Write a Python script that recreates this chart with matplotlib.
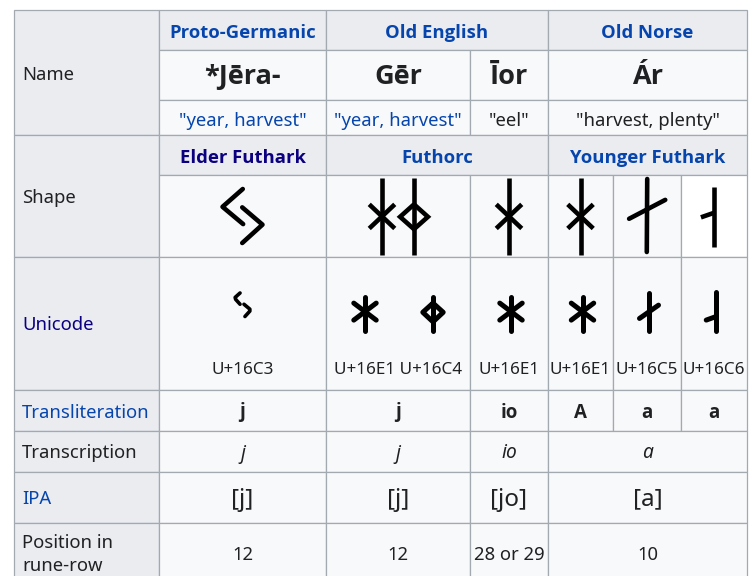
import matplotlib
matplotlib.use("Agg")
import matplotlib.pyplot as plt
from matplotlib import font_manager as fm
from matplotlib.patches import Rectangle

# ---------------- data ----------------
row_labels = ["Name", "Shape", "Unicode", "Transliteration", "Transcription",
              "IPA", "Position in\nrune-row"]
languages = ["Proto-Germanic", "Old English", "Old Norse"]
rune_names = ["*Jēra-", "Gēr", "Īor", "Ár"]
meanings = ['"year, harvest"', '"year, harvest"', '"eel"', '"harvest, plenty"']
scripts = ["Elder Futhark", "Futhorc", "Younger Futhark"]
code_points = [["16C3"], ["16E1", "16C4"], ["16E1"], ["16E1"], ["16C5"], ["16C6"]]
transliterations = ["j", "j", "io", "A", "a", "a"]
transcriptions = ["j", "j", "io", "a"]
ipa_values = ["[j]", "[j]", "[jo]", "[a]"]
positions = ["12", "12", "28 or 29", "10"]

# ---------------- style / layout ----------------
FONT = ["Noto Sans", "DejaVu Sans"]


def has_bold(fam):
    for e in fm.fontManager.ttflist:
        w = e.weight
        if isinstance(w, str):
            w = {"bold": 700, "semibold": 600, "demibold": 600,
                 "heavy": 800, "black": 900, "extra bold": 800}.get(w, 400)
        if e.name == fam and w >= 600 and e.style == "normal":
            return True
    return False


BOLD_FONT = ["DejaVu Sans"]
for fam in ["Noto Sans", "Open Sans", "Roboto", "Lato", "Liberation Sans"]:
    if has_bold(fam):
        BOLD_FONT = [fam, "DejaVu Sans"]
        break

BLACK = "#202122"
LINK = "#0645ad"
VISITED = "#0b0080"
HEAD_BG = "#eaecf0"
CELL_BG = "#f8f9fa"
BORDER = "#a2a9b1"

label_colors = [BLACK, BLACK, VISITED, LINK, BLACK, LINK, BLACK]
meaning_colors = [LINK, LINK, BLACK, BLACK]
script_colors = [VISITED, LINK, LINK]

col_x = [14, 159, 326, 470, 548, 613, 681, 747]
row_y = [10, 50, 100, 135, 175, 257, 390, 431, 472, 523, 582]
label_rows = [(0, 3), (3, 5), (5, 6), (6, 7), (7, 8), (8, 9), (9, 10)]
span3 = [(1, 2), (2, 4), (4, 7)]
span4 = [(1, 2), (2, 3), (3, 4), (4, 7)]
span6 = [(1, 2), (2, 3), (3, 4), (4, 5), (5, 6), (6, 7)]
TEXT_DY = 2

# glyph stroke outlines (x relative to glyph height, y 0=top .. 1=bottom)
SHAPE_STROKES = {
    "16C3": [[(0.005, 0.0), (-0.37, 0.33), (0.012, 0.65)],
             [(-0.005, 0.34), (0.37, 0.66), (-0.005, 1.0)]],
    "16E1": [[(0, 0), (0, 1)], [(-0.165, 0.345), (0.165, 0.657)],
             [(-0.165, 0.657), (0.165, 0.345)]],
    "16C4": [[(0, 0), (0, 1)],
             [(0, 0.345), (0.18, 0.506), (0, 0.666), (-0.18, 0.506), (0, 0.345)]],
    "16C5": [[(0.003, 0), (-0.003, 1)], [(-0.245, 0.545), (0.25, 0.286)]],
    "16C6": [[(0, 0), (0, 1)], [(-0.216, 0.51), (0, 0.435)]],
}
SHAPE_BOX = {"16C3": (189, 243), "16E1": (177.7, 255), "16C4": (177.7, 255),
             "16C5": (179, 252), "16C6": (186.5, 247)}

FONT_STROKES = {
    "16C3": [[(-0.1, 0.04), (-0.3, 0.22), (-0.28, 0.3), (-0.1, 0.5)],
             [(0.06, 0.5), (0.3, 0.7), (0.3, 0.78), (0.1, 1.0)]],
    "16E1": [[(0, 0), (0, 1)], [(-0.33, 0.18), (0.33, 0.68)],
             [(-0.33, 0.68), (0.33, 0.18)]],
    "16C4": [[(0, 0), (0, 1)],
             [(0, 0.18), (0.3, 0.45), (0, 0.73), (-0.3, 0.45), (0, 0.18)]],
    "16C5": [[(0, 0), (0, 1)], [(-0.25, 0.67), (0.25, 0.32)]],
    "16C6": [[(0, 0), (0, 1)], [(-0.25, 0.72), (0, 0.63)]],
}
FONT_BOX = {"16C3": (292, 316.5), "16E1": (297, 331), "16C4": (297, 331),
            "16C5": (293, 331), "16C6": (292, 331)}

fig = plt.figure(figsize=(7.49, 5.76), dpi=100)
ax = fig.add_axes([0, 0, 1, 1])
ax.set_xlim(0, 749)
ax.set_ylim(576, 0)
ax.axis("off")


def cell(c0, c1, r0, r1, bg):
    x0, x1 = col_x[c0], col_x[c1]
    y0, y1 = row_y[r0], row_y[r1]
    ax.add_patch(Rectangle((x0, y0), x1 - x0, y1 - y0, facecolor=bg,
                           edgecolor=BORDER, linewidth=0.9, zorder=1))
    return (x0 + x1) / 2, (y0 + y1) / 2


def put(text, x, y, size=13.3, color=BLACK, weight="normal", style="normal",
        ha="center", **kw):
    fam = BOLD_FONT if weight == "bold" else FONT
    ax.text(x, y + TEXT_DY, text, fontsize=size, color=color, fontweight=weight,
            fontstyle=style, ha=ha, va="center", family=fam, zorder=3, **kw)


def glyph(strokes, cx, top, bottom, lw, cap="butt", join="miter"):
    h = bottom - top
    for s in strokes:
        ax.plot([cx + p[0] * h for p in s], [top + p[1] * h for p in s],
                color="black", lw=lw, solid_capstyle=cap,
                solid_joinstyle=join, zorder=4)


# label column
for lab, (r0, r1), col in zip(row_labels, label_rows, label_colors):
    _, cy = cell(0, 1, r0, r1, HEAD_BG)
    put(lab, 22, cy, color=col, ha="left", linespacing=1.4)

# languages header
for txt, (c0, c1) in zip(languages, span3):
    cx, cy = cell(c0, c1, 0, 1, HEAD_BG)
    put(txt, cx, cy + 1, color=LINK, weight="bold")

# rune names
for txt, (c0, c1) in zip(rune_names, span4):
    cx, cy = cell(c0, c1, 1, 2, CELL_BG)
    put(txt, cx, cy, size=19.5, weight="bold")

# meanings
for txt, (c0, c1), col in zip(meanings, span4, meaning_colors):
    cx, cy = cell(c0, c1, 2, 3, CELL_BG)
    put(txt, cx, cy + 1, color=col)

# scripts header
for txt, (c0, c1), col in zip(scripts, span3, script_colors):
    cx, cy = cell(c0, c1, 3, 4, HEAD_BG)
    put(txt, cx, cy + 1, color=col, weight="bold")

# shapes and unicode
for i, ((c0, c1), cps) in enumerate(zip(span6, code_points)):
    bg = "white" if i == len(span6) - 1 else CELL_BG
    cx, _ = cell(c0, c1, 4, 5, bg)
    n = len(cps)
    offs = [0] if n == 1 else [-16, 16]
    for cp, o in zip(cps, offs):
        t, b = SHAPE_BOX[cp]
        if cp == "16C3":
            glyph(SHAPE_STROKES[cp], cx + o, t, b, 3.3, cap="round", join="round")
        elif cp == "16C5":
            glyph(SHAPE_STROKES[cp], cx + o, t, b, 3.3, cap="round")
        else:
            glyph(SHAPE_STROKES[cp], cx + o, t, b, 3.3)
    cx, _ = cell(c0, c1, 5, 6, CELL_BG)
    offs = [2] if n == 1 else [-33, 35]
    if cps == ["16C3"]:
        offs = [0]
    for cp, o in zip(cps, offs):
        t, b = FONT_BOX[cp]
        lw = 2.6 if cp == "16C3" else 3.6
        glyph(FONT_STROKES[cp], cx + o, t, b, lw, cap="round", join="round")
    put(" ".join("U+" + cp for cp in cps), cx, 368, size=12.3)

# transliteration
for txt, (c0, c1) in zip(transliterations, span6):
    cx, cy = cell(c0, c1, 6, 7, CELL_BG)
    put(txt, cx, cy, size=13.5, weight="bold")

# transcription
for txt, (c0, c1) in zip(transcriptions, span4):
    cx, cy = cell(c0, c1, 7, 8, CELL_BG)
    put(txt, cx, cy, size=13.8, style="italic")

# IPA
for txt, (c0, c1) in zip(ipa_values, span4):
    cx, cy = cell(c0, c1, 8, 9, CELL_BG)
    put(txt, cx, cy, size=17.5)

# position
for txt, (c0, c1) in zip(positions, span4):
    cx, cy = cell(c0, c1, 9, 10, CELL_BG)
    put(txt, cx, cy)

fig.savefig("out.png", dpi=100, facecolor="white")
